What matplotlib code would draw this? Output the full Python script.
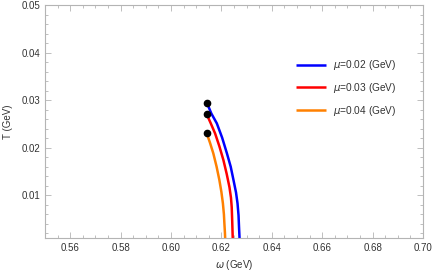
import numpy as np
import matplotlib
matplotlib.use("Agg")
import matplotlib.pyplot as plt
from matplotlib.ticker import MultipleLocator, FormatStrFormatter

plt.rcParams["font.family"] = ["Liberation Sans", "DejaVu Sans"]

# omega (GeV), T (GeV)
w_002 = [0.6142, 0.6160, 0.6182, 0.6203, 0.6222, 0.6237, 0.6248, 0.6258, 0.6264, 0.6268, 0.6270, 0.6272]
T_002 = [0.0295, 0.0272, 0.0251, 0.0221, 0.0188, 0.0160, 0.0132, 0.0106, 0.0083, 0.0058, 0.0033, 0.0010]
w_003 = [0.6142, 0.6158, 0.6175, 0.6192, 0.6208, 0.6221, 0.6232, 0.6238, 0.6241, 0.6243, 0.6245]
T_003 = [0.0270, 0.0251, 0.0230, 0.0203, 0.0174, 0.0145, 0.0117, 0.0095, 0.0075, 0.0045, 0.0010]
w_004 = [0.6142, 0.6155, 0.6168, 0.6181, 0.6192, 0.6200, 0.6206, 0.6210, 0.6212, 0.6214, 0.6215]
T_004 = [0.0230, 0.0210, 0.0188, 0.0160, 0.0132, 0.0107, 0.0083, 0.0060, 0.0040, 0.0022, 0.0010]

labels = [r"$\mu$=0.02 (GeV)", r"$\mu$=0.03 (GeV)", r"$\mu$=0.04 (GeV)"]
colors = ["#0000ff", "#ff0000", "#ff8000"]

fig = plt.figure(figsize=(4.35, 2.73), dpi=100)
ax = fig.add_axes([0.1034, 0.128, 0.869, 0.8537])

for w, T, lab, c in [(w_002, T_002, labels[0], colors[0]),
                     (w_003, T_003, labels[1], colors[1]),
                     (w_004, T_004, labels[2], colors[2])]:
    ax.plot(w, T, color=c, lw=1.8, label=lab, solid_capstyle="butt",
            solid_joinstyle="round")
    ax.plot(w[0], T[0], "o", color="black", ms=4.5, zorder=5)

ax.set_xlim(0.55, 0.70)
ax.set_ylim(0.001, 0.05)
ax.xaxis.set_major_locator(MultipleLocator(0.02))
ax.xaxis.set_minor_locator(MultipleLocator(0.005))
ax.yaxis.set_major_locator(MultipleLocator(0.01))
ax.yaxis.set_minor_locator(MultipleLocator(0.002))
ax.xaxis.set_major_formatter(FormatStrFormatter("%.2f"))
ax.yaxis.set_major_formatter(FormatStrFormatter("%.2f"))

for s in ax.spines.values():
    s.set_color("#b4b4b4")
    s.set_linewidth(0.8)
ax.tick_params(which="both", direction="in", top=True, right=True,
               color="#b4b4b4", labelcolor="#333333", labelsize=7, width=0.6)
ax.tick_params(which="major", length=4)
ax.tick_params(which="minor", length=2)

ax.set_xlabel(r"$\omega$ (GeV)", fontsize=7, color="#333333", labelpad=4)
ax.set_ylabel("T (GeV)", fontsize=7, color="#333333", labelpad=6)

leg = ax.legend(loc="upper left", bbox_to_anchor=(0.64, 0.81), frameon=False,
                fontsize=7.3, handlelength=3.0, labelspacing=0.85, handletextpad=0.6)
for t in leg.get_texts():
    t.set_color("#333333")

fig.savefig("out.png", dpi=100)
